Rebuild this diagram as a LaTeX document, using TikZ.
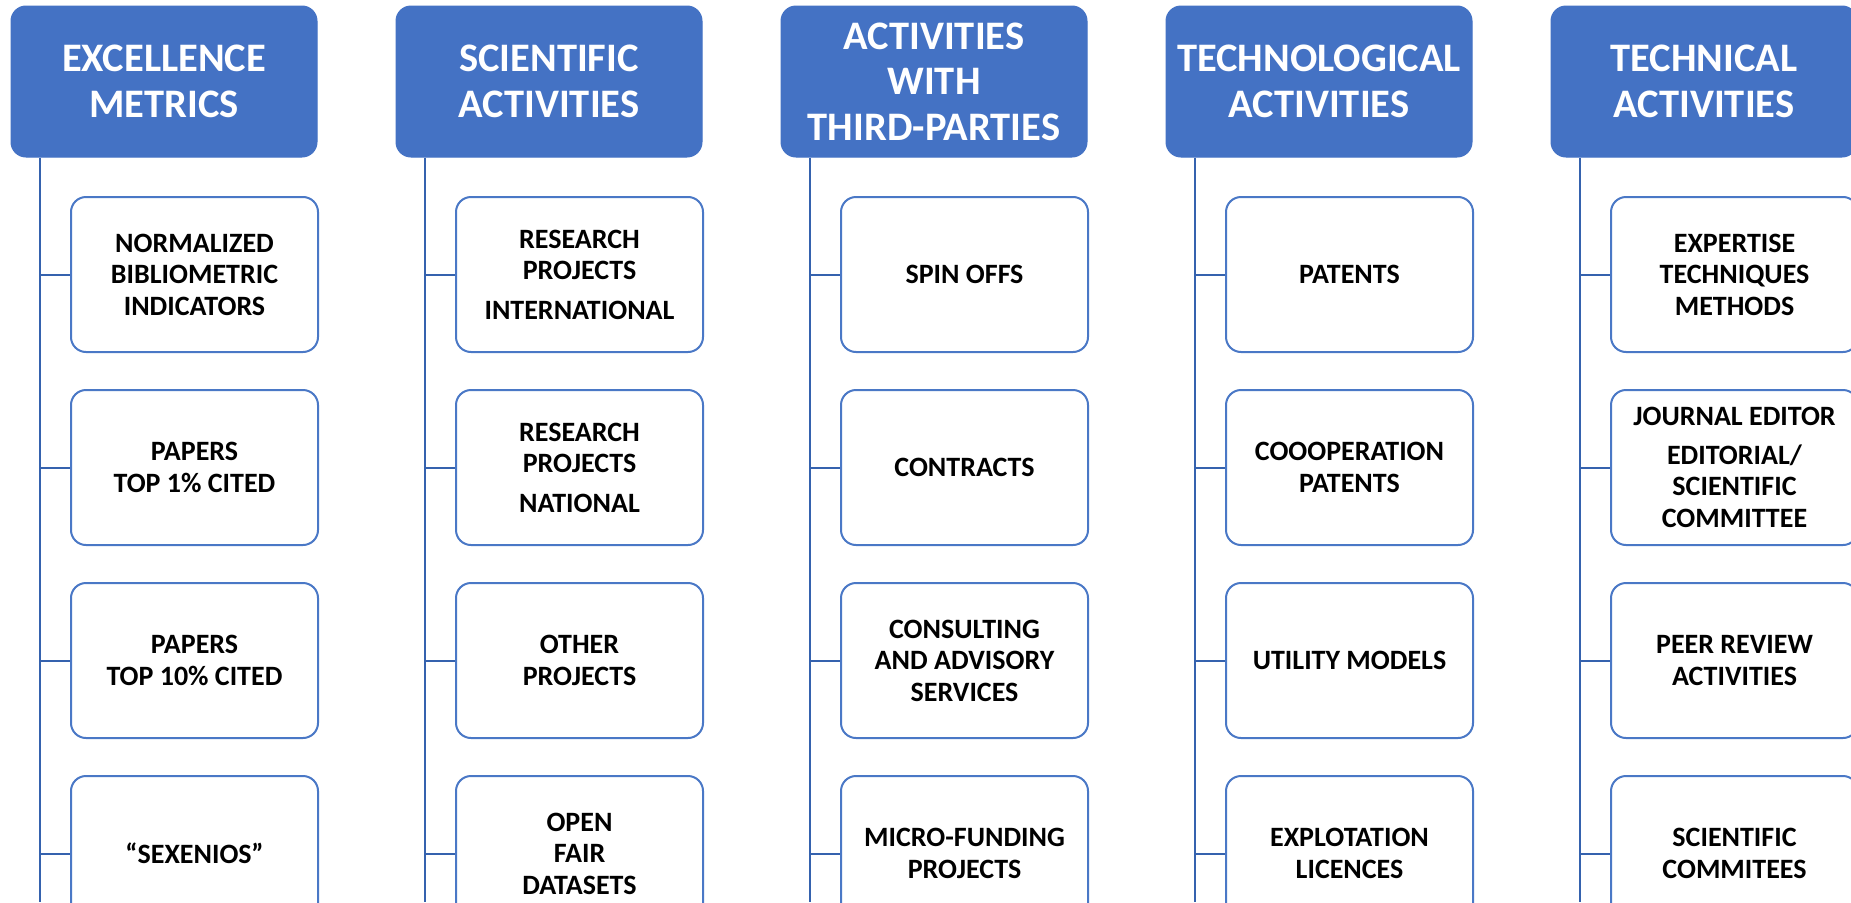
\documentclass[tikz,border=0pt]{standalone}
\usepackage{fontspec}
\setmainfont{Carlito}
\definecolor{hdrblue}{HTML}{4472C4}
\definecolor{boxblue}{HTML}{4A78C6}
\definecolor{lineblue}{HTML}{3562AE}
\begin{document}
\begin{tikzpicture}[x=1pt,y=-1pt,
  header/.style={rectangle, rounded corners=15pt, fill=hdrblue, draw=hdrblue, line width=1pt,
    minimum width=306pt, minimum height=151pt, inner sep=0pt, align=center, text=white,
    font=\bfseries\fontsize{40.5}{45.5}\selectfont},
  item/.style={rectangle, rounded corners=15pt, fill=white, draw=boxblue, line width=2pt,
    minimum width=247pt, minimum height=155pt, inner sep=0pt, align=center, text=black,
    font=\bfseries\fontsize{28}{31.5}\selectfont},
  trunk/.style={draw=lineblue, line width=2pt},
  branch/.style={draw=lineblue, line width=2pt}]
\useasboundingbox (0,0) rectangle (1851,902);

% headers
\node[header] (h1) at (164,81.5) {EXCELLENCE\\METRICS};
\node[header] (h2) at (549,81.5) {SCIENTIFIC\\ACTIVITIES};
\node[header] (h3) at (934,81.5) {ACTIVITIES\\WITH\\THIRD-PARTIES};
\node[header] (h4) at (1319,81.5) {TECHNOLOGICAL\\ACTIVITIES};
\node[header] (h5) at (1704,81.5) {TECHNICAL\\ACTIVITIES};

% column 1
\node[item] (a1) at (194.5,274.5) {NORMALIZED\\BIBLIOMETRIC\\INDICATORS};
\node[item] (a2) at (194.5,467.5) {PAPERS\\TOP 1\% CITED};
\node[item] (a3) at (194.5,660.5) {PAPERS\\TOP 10\% CITED};
\node[item] (a4) at (194.5,853.5) {“SEXENIOS”};
% column 2
\node[item] (b1) at (579.5,274.5) {RESEARCH\\PROJECTS\\[8pt]INTERNATIONAL};
\node[item] (b2) at (579.5,467.5) {RESEARCH\\PROJECTS\\[8pt]NATIONAL};
\node[item] (b3) at (579.5,660.5) {OTHER\\PROJECTS};
\node[item] (b4) at (579.5,853.5) {OPEN\\FAIR\\DATASETS};
% column 3
\node[item] (c1) at (964.5,274.5) {SPIN OFFS};
\node[item] (c2) at (964.5,467.5) {CONTRACTS};
\node[item] (c3) at (964.5,660.5) {CONSULTING\\AND ADVISORY\\SERVICES};
\node[item] (c4) at (964.5,853.5) {MICRO-FUNDING\\PROJECTS};
% column 4
\node[item] (d1) at (1349.5,274.5) {PATENTS};
\node[item] (d2) at (1349.5,467.5) {COOOPERATION\\PATENTS};
\node[item] (d3) at (1349.5,660.5) {UTILITY MODELS};
\node[item] (d4) at (1349.5,853.5) {EXPLOTATION\\LICENCES};
% column 5
\node[item] (e1) at (1734.5,274.5) {EXPERTISE\\TECHNIQUES\\METHODS};
\node[item] (e2) at (1734.5,467.5) {JOURNAL EDITOR\\[7pt]EDITORIAL/\\SCIENTIFIC\\COMMITTEE};
\node[item] (e3) at (1734.5,660.5) {PEER REVIEW\\ACTIVITIES};
\node[item] (e4) at (1734.5,853.5) {SCIENTIFIC\\COMMITEES};

% trunks
\coordinate (v1) at (40,902);
\coordinate (v2) at (425,902);
\coordinate (v3) at (810,902);
\coordinate (v4) at (1195,902);
\coordinate (v5) at (1580,902);
\foreach \h/\v/\c in {h1/v1/a, h2/v2/b, h3/v3/c, h4/v4/d, h5/v5/e}{
  \draw[trunk] (\h.south -| \v) -- (\v);
  \foreach \r in {1,2,3,4}{
    \draw[branch] (\c\r.west -| \v) -- (\c\r.west);
  }
}
\end{tikzpicture}
\end{document}
